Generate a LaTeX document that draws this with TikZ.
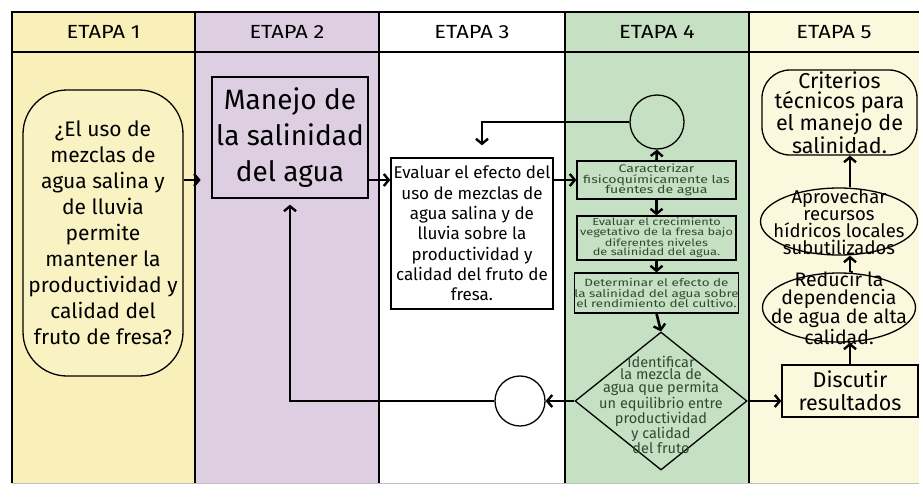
\documentclass[tikz,border=0pt]{standalone}
\usepackage{fontspec}
\setmainfont{Fira Sans}
\newfontfamily\wide[FakeStretch=1.15]{Fira Sans}
\newfontfamily\wider[FakeStretch=1.28]{Fira Sans}
\usetikzlibrary{shapes.geometric,arrows.meta}
\definecolor{laneA}{HTML}{F8F0B8}
\definecolor{laneB}{HTML}{DDCFE1}
\definecolor{laneD}{HTML}{C6E0C3}
\definecolor{laneE}{HTML}{FCF8DE}
\definecolor{inkG}{HTML}{2F4A33}
\tikzset{
  box/.style={draw,line width=1.3pt,align=center,inner sep=0pt},
  gbox/.style={box,minimum width=159pt,text=inkG},
  txt/.style={align=center,inner sep=0pt},
  flow/.style={line width=2.6pt,-{Straight Barb[length=5pt,width=12pt,line width=2.4pt]}},
}
\begin{document}
\begin{tikzpicture}[x=1pt,y=-1pt]
\useasboundingbox (0,0) rectangle (919,485);
\fill[white] (0,0) rectangle (919,485);
% lanes and headers
\foreach \xa/\xb/\col/\n in {12/195/laneA/1,195/379/laneB/2,379/565/white/3,565/749/laneD/4,749/919/laneE/5} {
  \fill[\col] (\xa,12) rectangle (\xb,483);
  \node[font=\wide\fontsize{19}{19}\selectfont] (etapa\n) at ({(\xa+\xb)/2},32) {ETAPA \n};
}
\draw[gray!50] (12,483) -- (919,483);
\draw[line width=2.6pt] (10.7,12) -- (919,12);
\draw[line width=2.6pt] (10.7,52) -- (919,52);
\foreach \x in {12,195,379,565,749} {\draw[line width=2.6pt] (\x,12) -- (\x,483);}
% etapa 1 y 2
\node[box,fill=laneA!85!white,rounded corners=44pt,minimum width=160pt,minimum height=286pt,
  font=\fontsize{21}{26}\selectfont] (pregunta) at (103,233)
  {¿El uso de\\mezclas de\\agua salina y\\de lluvia\\permite\\mantener la\\productividad y\\calidad del\\fruto de fresa?};
\node[box,minimum width=156pt,minimum height=121pt,font=\fontsize{28}{36}\selectfont] (manejo) at (290,137.5)
  {Manejo de\\la salinidad\\del agua};
% etapa 3
\node[box,fill=white,minimum width=162pt,minimum height=151pt,font=\fontsize{17}{20.3}\selectfont] (efecto) at (472,233.5)
  {Evaluar el efecto del\\uso de mezclas de\\agua salina y de\\lluvia sobre la\\productividad y\\calidad del fruto de\\fresa.};
% etapa 4
\node[draw,circle,line width=1.3pt,minimum size=54pt] (cima) at (657,122) {};
\node[gbox,minimum height=38pt,font=\wider\fontsize{11}{10.8}\selectfont] (caract) at (656.5,180)
  {Caracterizar\\fisicoquímicamente las\\fuentes de agua};
\node[gbox,minimum height=44pt,font=\wider\fontsize{10}{9.4}\selectfont] (crec) at (656.5,238)
  {Evaluar el crecimiento\\vegetativo de la fresa bajo\\diferentes niveles\\de salinidad del agua.};
\node[gbox,minimum height=40pt,font=\wider\fontsize{10.5}{10.5}\selectfont] (determ) at (656.5,293)
  {Determinar el efecto de\\la salinidad del agua sobre\\el rendimiento del cultivo.};
\node[draw,diamond,line width=1.3pt,minimum width=172pt,minimum height=138pt,inner sep=0pt] (ident) at (661,401) {};
\node[txt,text=inkG,font=\fontsize{14.5}{12.8}\selectfont] (identtxt) at (661,405)
  {Identificar\\la mezcla de\\agua que permita\\un equilibrio entre\\productividad\\y calidad\\del fruto};
\node[draw,circle,fill=white,line width=1.3pt,minimum size=50pt] (retorno) at (520,401) {};
% etapa 5
\node[box,rounded corners=28pt,minimum width=155pt,minimum height=85pt,font=\fontsize{21.5}{20}\selectfont] (criterios) at (839.5,112.5)
  {Criterios\\técnicos para\\el manejo de\\salinidad.};
\node[draw,ellipse,line width=1.3pt,minimum width=157pt,minimum height=67pt,inner sep=0pt] (aprovechar) at (839,221.5) {};
\node[txt,font=\fontsize{18.5}{16.8}\selectfont] (aprovechartxt) at (839,222)
  {Aprovechar\\recursos\\hídricos locales\\subutilizados};
\node[draw,ellipse,line width=1.3pt,minimum width=153pt,minimum height=69pt,inner sep=0pt] (reducir) at (839,307.5) {};
\node[txt,font=\fontsize{19.5}{17.3}\selectfont] (reducirtxt) at (839,308)
  {Reducir la\\dependencia\\de agua de alta\\calidad.};
\node[box,minimum width=136pt,minimum height=52pt,font=\fontsize{21.5}{23}\selectfont] (discutir) at (850,391)
  {Discutir\\resultados};
% conectores
\draw[flow] (pregunta.east |- caract.west) -- ++(17,0);
\draw[flow] (manejo.east |- caract.west) -- (efecto.west |- caract.west);
\draw[flow] (efecto.east |- caract.west) -- (caract.west);
\draw[flow] (caract.north) -- (cima.south);
\draw[flow,shorten >=12pt] (cima.west) -| ([xshift=10pt]efecto.north);
\draw[flow] (caract.south) -- (crec.north);
\draw[flow] (crec.south) -- (determ.north);
\draw[flow] (determ.south) -- (ident.north);
\draw[flow] (ident.west) -- (retorno.east);
\draw[flow,shorten >=6pt] (retorno.west) -| (manejo.south);
\draw[flow] (ident.east) -- (ident.east -| discutir.west);
\draw[flow] (discutir.north) -- (discutir.north |- reducir.south);
\draw[flow] (discutir.north |- reducir.north) -- (discutir.north |- aprovechar.south);
\draw[flow] (discutir.north |- aprovechar.north) -- (discutir.north |- criterios.south);
\end{tikzpicture}
\end{document}
